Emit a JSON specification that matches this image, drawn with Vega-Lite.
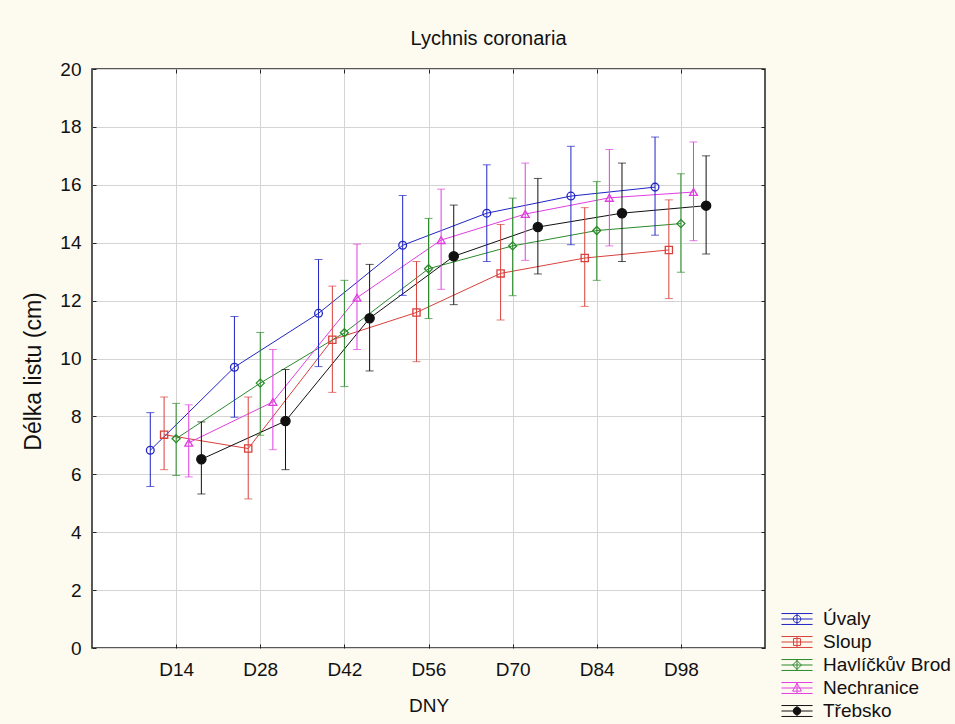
{
  "$schema": "https://vega.github.io/schema/vega-lite/v6.json",
  "width": 673,
  "height": 579,
  "autosize": {"type": "none"},
  "padding": {"left": 92, "top": 69, "right": 190, "bottom": 76},
  "background": "#FDFAF0",
  "title": {"text": "Lychnis coronaria", "fontSize": 20, "fontWeight": "normal", "color": "#111", "font": "Liberation Sans", "anchor": "middle", "dx": 60, "offset": 11},
  "data": {"values": [
    {"lokalita": "Úvaly", "den": 14, "prumer": 6.83, "dolni": 5.58, "horni": 8.13},
    {"lokalita": "Úvaly", "den": 28, "prumer": 9.70, "dolni": 7.97, "horni": 11.45},
    {"lokalita": "Úvaly", "den": 42, "prumer": 11.56, "dolni": 9.72, "horni": 13.42},
    {"lokalita": "Úvaly", "den": 56, "prumer": 13.91, "dolni": 12.18, "horni": 15.63},
    {"lokalita": "Úvaly", "den": 70, "prumer": 15.02, "dolni": 13.35, "horni": 16.69},
    {"lokalita": "Úvaly", "den": 84, "prumer": 15.61, "dolni": 13.93, "horni": 17.33},
    {"lokalita": "Úvaly", "den": 98, "prumer": 15.92, "dolni": 14.26, "horni": 17.65},
    {"lokalita": "Sloup", "den": 14, "prumer": 7.37, "dolni": 6.16, "horni": 8.67},
    {"lokalita": "Sloup", "den": 28, "prumer": 6.89, "dolni": 5.15, "horni": 8.67},
    {"lokalita": "Sloup", "den": 42, "prumer": 10.65, "dolni": 8.83, "horni": 12.50},
    {"lokalita": "Sloup", "den": 56, "prumer": 11.59, "dolni": 9.89, "horni": 13.35},
    {"lokalita": "Sloup", "den": 70, "prumer": 12.94, "dolni": 11.33, "horni": 14.63},
    {"lokalita": "Sloup", "den": 84, "prumer": 13.47, "dolni": 11.80, "horni": 15.21},
    {"lokalita": "Sloup", "den": 98, "prumer": 13.75, "dolni": 12.07, "horni": 15.48},
    {"lokalita": "Havlíčkův Brod", "den": 14, "prumer": 7.23, "dolni": 5.96, "horni": 8.45},
    {"lokalita": "Havlíčkův Brod", "den": 28, "prumer": 9.15, "dolni": 7.35, "horni": 10.90},
    {"lokalita": "Havlíčkův Brod", "den": 42, "prumer": 10.89, "dolni": 9.03, "horni": 12.70},
    {"lokalita": "Havlíčkův Brod", "den": 56, "prumer": 13.10, "dolni": 11.38, "horni": 14.84},
    {"lokalita": "Havlíčkův Brod", "den": 70, "prumer": 13.89, "dolni": 12.17, "horni": 15.54},
    {"lokalita": "Havlíčkův Brod", "den": 84, "prumer": 14.42, "dolni": 12.70, "horni": 16.11},
    {"lokalita": "Havlíčkův Brod", "den": 98, "prumer": 14.66, "dolni": 12.98, "horni": 16.38},
    {"lokalita": "Nechranice", "den": 14, "prumer": 7.09, "dolni": 5.91, "horni": 8.40},
    {"lokalita": "Nechranice", "den": 28, "prumer": 8.50, "dolni": 6.85, "horni": 10.31},
    {"lokalita": "Nechranice", "den": 42, "prumer": 12.10, "dolni": 10.31, "horni": 13.95},
    {"lokalita": "Nechranice", "den": 56, "prumer": 14.09, "dolni": 12.39, "horni": 15.85},
    {"lokalita": "Nechranice", "den": 70, "prumer": 14.99, "dolni": 13.39, "horni": 16.75},
    {"lokalita": "Nechranice", "den": 84, "prumer": 15.55, "dolni": 13.89, "horni": 17.22},
    {"lokalita": "Nechranice", "den": 98, "prumer": 15.75, "dolni": 14.07, "horni": 17.48},
    {"lokalita": "Třebsko", "den": 14, "prumer": 6.52, "dolni": 5.32, "horni": 7.81},
    {"lokalita": "Třebsko", "den": 28, "prumer": 7.84, "dolni": 6.16, "horni": 9.62},
    {"lokalita": "Třebsko", "den": 42, "prumer": 11.39, "dolni": 9.57, "horni": 13.25},
    {"lokalita": "Třebsko", "den": 56, "prumer": 13.53, "dolni": 11.86, "horni": 15.30},
    {"lokalita": "Třebsko", "den": 70, "prumer": 14.54, "dolni": 12.92, "horni": 16.22},
    {"lokalita": "Třebsko", "den": 84, "prumer": 15.02, "dolni": 13.35, "horni": 16.75},
    {"lokalita": "Třebsko", "den": 98, "prumer": 15.28, "dolni": 13.61, "horni": 17.00}
  ]},
  "transform": [
    {"calculate": "datum.den + (datum.lokalita === 'Úvaly' ? -4.3 : datum.lokalita === 'Sloup' ? -2 : datum.lokalita === 'Nechranice' ? 2.1 : datum.lokalita === 'Třebsko' ? 4.2 : 0)", "as": "xpos"}
  ],
  "layer": [
    {
      "mark": {"type": "line", "strokeWidth": 1},
      "encoding": {
        "x": {"field": "xpos", "type": "quantitative", "scale": {"domain": [0, 112], "nice": false, "zero": false},
          "axis": {"orient": "bottom", "values": [14, 28, 42, 56, 70, 84, 98], "labelExpr": "'D' + datum.value", "title": "DNY", "grid": true, "gridColor": "#d4d4d4", "gridWidth": 1, "domain": false, "ticks": false, "labelPadding": 12, "labelFontSize": 19, "titleFontSize": 19, "titleFontWeight": "normal", "titleY": 57, "titleBaseline": "middle"}},
        "y": {"field": "prumer", "type": "quantitative", "scale": {"domain": [0, 20], "nice": false},
          "axis": {"orient": "left", "values": [0, 2, 4, 6, 8, 10, 12, 14, 16, 18, 20], "title": "Délka listu (cm)", "grid": true, "gridColor": "#d4d4d4", "gridWidth": 1, "domain": false, "ticks": false, "labelPadding": 11, "labelFontSize": 19, "titleFontSize": 23, "titleFontWeight": "normal", "titleX": -59, "titleY": 302, "titleBaseline": "middle"}},
        "color": {"field": "lokalita", "type": "nominal", "scale": {"domain": ["Úvaly", "Sloup", "Havlíčkův Brod", "Nechranice", "Třebsko"], "range": ["#1f24c4", "#d8403c", "#2a8a2a", "#e03ee0", "#111111"]},
          "legend": {"orient": "none", "legendX": 694, "legendY": 539, "title": null, "padding": 0, "labelFontSize": 19, "labelFont": "Liberation Sans", "labelColor": "#111", "symbolSize": 441, "symbolStrokeWidth": 1, "labelOffset": 15, "rowPadding": 2,
            "encode": {"symbols": {"update": {
              "shape": {"signal": "'M-1.48,-0.52H1.48M-1.48,0H1.48M-1.48,0.52H1.48M0,-0.52V0.52' + (datum.value === 'Sloup' ? 'M-0.33,-0.33H0.33V0.33H-0.33Z' : datum.value === 'Havlíčkův Brod' ? 'M0,-0.42L0.42,0L0,0.42L-0.42,0Z' : datum.value === 'Nechranice' ? 'M0,-0.45L0.42,0.3H-0.42Z' : 'M0.36,0A0.36,0.36 0 1,1 -0.36,0A0.36,0.36 0 1,1 0.36,0Z')"},
              "fillOpacity": {"signal": "datum.value === 'Třebsko' ? 1 : 0"},
              "strokeWidth": {"value": 1}
            }}}}}
      }
    },
    {
      "mark": {"type": "errorbar", "ticks": {"size": 8}, "thickness": 1},
      "encoding": {
        "x": {"field": "xpos", "type": "quantitative", "axis": null},
        "y": {"field": "dolni", "type": "quantitative", "axis": null},
        "y2": {"field": "horni"},
        "color": {"field": "lokalita", "type": "nominal"}
      }
    },
    {
      "transform": [{"filter": "datum.lokalita === 'Úvaly'"}],
      "mark": {"type": "point", "shape": "circle", "filled": false, "size": 60, "strokeWidth": 1.3, "opacity": 1},
      "encoding": {
        "x": {"field": "xpos", "type": "quantitative", "axis": null},
        "y": {"field": "prumer", "type": "quantitative", "axis": null},
        "color": {"field": "lokalita", "type": "nominal"}
      }
    },
    {
      "transform": [{"filter": "datum.lokalita === 'Sloup'"}],
      "mark": {"type": "point", "shape": "square", "filled": false, "size": 52, "strokeWidth": 1.3, "opacity": 1},
      "encoding": {
        "x": {"field": "xpos", "type": "quantitative", "axis": null},
        "y": {"field": "prumer", "type": "quantitative", "axis": null},
        "color": {"field": "lokalita", "type": "nominal"}
      }
    },
    {
      "transform": [{"filter": "datum.lokalita === 'Havlíčkův Brod'"}],
      "mark": {"type": "point", "shape": "diamond", "filled": false, "size": 64, "strokeWidth": 1.3, "opacity": 1},
      "encoding": {
        "x": {"field": "xpos", "type": "quantitative", "axis": null},
        "y": {"field": "prumer", "type": "quantitative", "axis": null},
        "color": {"field": "lokalita", "type": "nominal"}
      }
    },
    {
      "transform": [{"filter": "datum.lokalita === 'Nechranice'"}],
      "mark": {"type": "point", "shape": "triangle-up", "filled": false, "size": 62, "strokeWidth": 1.3, "opacity": 1},
      "encoding": {
        "x": {"field": "xpos", "type": "quantitative", "axis": null},
        "y": {"field": "prumer", "type": "quantitative", "axis": null},
        "color": {"field": "lokalita", "type": "nominal"}
      }
    },
    {
      "transform": [{"filter": "datum.lokalita === 'Třebsko'"}],
      "mark": {"type": "point", "shape": "circle", "filled": false, "fill": "#111111", "size": 85, "strokeWidth": 1.3, "opacity": 1},
      "encoding": {
        "x": {"field": "xpos", "type": "quantitative", "axis": null},
        "y": {"field": "prumer", "type": "quantitative", "axis": null},
        "color": {"field": "lokalita", "type": "nominal"}
      }
    },
    {
      "mark": {"type": "point", "opacity": 0},
      "encoding": {
        "x": {"field": "xpos", "type": "quantitative", "axis": {"orient": "top", "offset": -4, "values": [14, 28, 42, 56, 70, 84, 98], "labels": false, "title": null, "grid": false, "domain": false, "ticks": true, "tickSize": 4, "tickColor": "#222"}},
        "y": {"field": "prumer", "type": "quantitative", "axis": {"orient": "right", "offset": -4, "values": [0, 2, 4, 6, 8, 10, 12, 14, 16, 18, 20], "labels": false, "title": null, "grid": false, "domain": false, "ticks": true, "tickSize": 4, "tickColor": "#222"}}
      }
    },
    {
      "mark": {"type": "point", "opacity": 0},
      "encoding": {
        "x": {"field": "xpos", "type": "quantitative", "axis": {"orient": "bottom", "offset": -4, "values": [14, 28, 42, 56, 70, 84, 98], "labels": false, "title": null, "grid": false, "domain": false, "ticks": true, "tickSize": 4, "tickColor": "#222"}},
        "y": {"field": "prumer", "type": "quantitative", "axis": {"orient": "left", "offset": -4, "values": [0, 2, 4, 6, 8, 10, 12, 14, 16, 18, 20], "labels": false, "title": null, "grid": false, "domain": false, "ticks": true, "tickSize": 4, "tickColor": "#222"}}
      }
    }
  ],
  "config": {
    "font": "Liberation Sans",
    "view": {"stroke": "#222", "strokeWidth": 1.5, "fill": "white"},
    "axis": {"labelColor": "#111", "titleColor": "#111", "labelFont": "Liberation Sans", "titleFont": "Liberation Sans"}
  }
}
